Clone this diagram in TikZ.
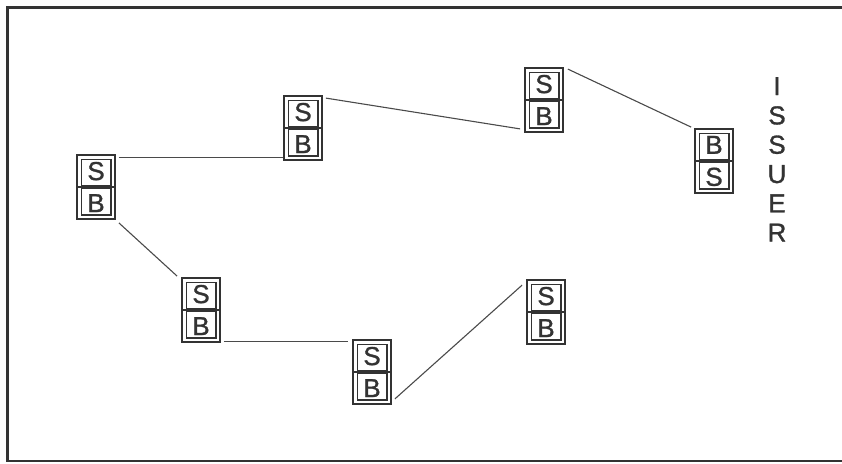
\documentclass[tikz,border=0pt]{standalone}
\usepackage{fontspec}
\setmainfont{Liberation Sans}
\newfontfamily\boxfont[FakeBold=1.2]{Liberation Sans}
\definecolor{ink}{HTML}{333333}
\definecolor{wire}{HTML}{4A4A4A}
\begin{document}
\begin{tikzpicture}[x=1pt,y=-1pt,
  sbbox/.style={draw=ink, line width=1.8pt, minimum width=38pt, minimum height=64pt,
    inner sep=0pt, align=center, text=ink,
    font=\boxfont\fontsize{26}{32}\selectfont,
    path picture={
      \draw[ink, line width=1.4pt]
        ([shift={(4.2pt,-4.2pt)}]path picture bounding box.north west) rectangle
        ([shift={(-4.2pt,1.3pt)}]path picture bounding box.east);
      \draw[ink, line width=1.4pt]
        ([shift={(4.2pt,-1.3pt)}]path picture bounding box.west) rectangle
        ([shift={(-4.2pt,4.2pt)}]path picture bounding box.south east);
      \draw[ink, line width=1.4pt]
        (path picture bounding box.west) -- (path picture bounding box.east);
    }},
  wireline/.style={draw=wire, line width=1.1pt},
  frameline/.style={draw=ink, line width=2.2pt}]
\useasboundingbox (0,0) rectangle (842,463);
\fill[white] (0,0) rectangle (842,463);
\draw[frameline] (842,7.5) -- (7.5,7.5) -- (7.5,461) -- (842,461);

\node[sbbox] (b1) at (96,187) {S\\B};
\node[sbbox] (b3) at (303,128) {S\\B};
\node[sbbox] (b2) at (544,100) {S\\B};
\node[sbbox] (b7) at (714,161) {B\\S};
\node[sbbox] (b4) at (201,310) {S\\B};
\node[sbbox] (b5) at (372,372) {S\\B};
\node[sbbox] (b6) at (546,312) {S\\B};

\node[anchor=north, inner sep=0pt, align=center, text=ink,
      font=\boxfont\fontsize{26}{29.3}\selectfont] (issuer) at (777,77) {I\\S\\S\\U\\E\\R};

\draw[wireline] ([shift={(3pt,-3pt)}]b1.north east) coordinate (c1) -- (c1 -| b3.west);
\draw[wireline] ([shift={(3pt,-3pt)}]b3.north east) -- ([shift={(-4pt,4pt)}]b2.south west);
\draw[wireline] ([shift={(4pt,-2pt)}]b2.north east) -- ([shift={(-3pt,1pt)}]b7.north west);
\draw[wireline] ([shift={(3pt,-3pt)}]b1.south east) -- ([shift={(-4pt,1pt)}]b4.north west);
\draw[wireline] ([shift={(3pt,1pt)}]b4.south east) coordinate (c4) -- ([xshift=-4pt]c4 -| b5.west);
\draw[wireline] ([shift={(3pt,6pt)}]b5.south east) -- ([shift={(-4pt,-6pt)}]b6.north west);
\end{tikzpicture}
\end{document}
